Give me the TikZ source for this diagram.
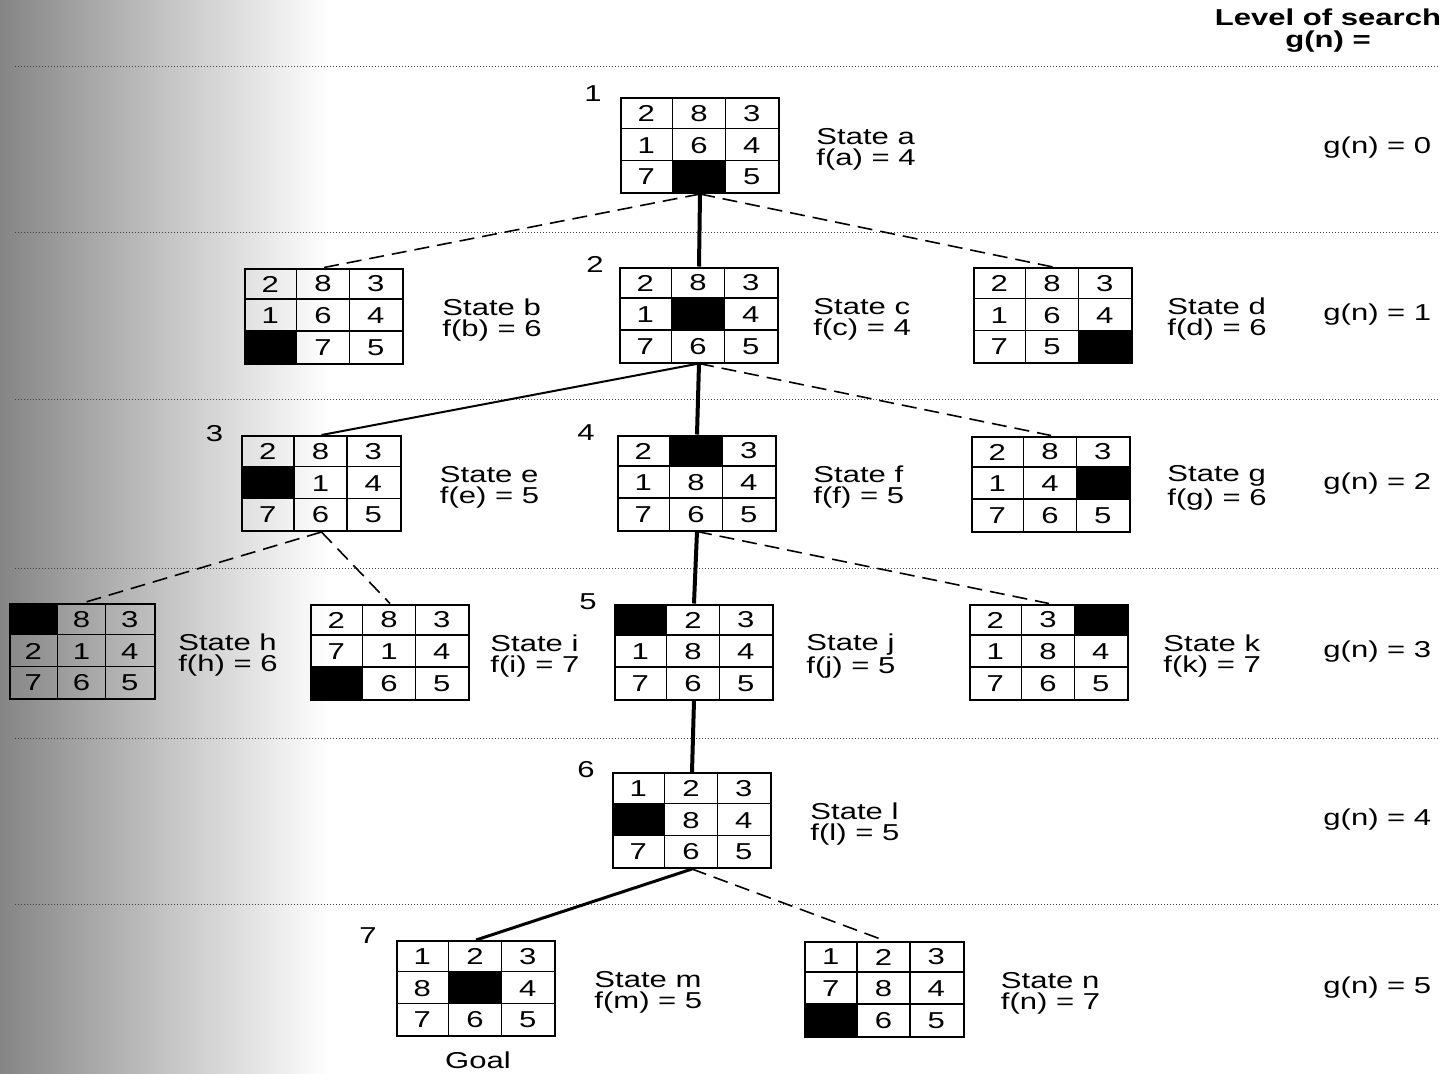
\documentclass[tikz,border=0pt]{standalone}
\usepackage{fontspec}
\setmainfont{Liberation Sans}[FakeStretch=1.35]
\usetikzlibrary{positioning}

\newcommand{\board}[4][52.7]{%
  \node[board, minimum width={1.5*#1 pt}] (#2) at (#3) {};
  \foreach \v [count=\k from 0] in {#4} {
    \pgfmathtruncatemacro\cc{mod(\k,3)}
    \pgfmathtruncatemacro\rr{div(\k,3)}
    \ifnum\v=0\relax
      \fill ([shift={(\cc*#1,\rr*31.67)}]#2.north west) rectangle ++(#1,31.67);
    \else
      \node (#2-\k) at ([shift={(\cc*#1+#1/2,\rr*31.67+16.5)}]#2.north west) {\v};
    \fi
  }
  \foreach \i in {1,2} {
    \draw[cellline] ([shift={(\i*#1,0)}]#2.north west) -- ([shift={(\i*#1,0)}]#2.south west);
    \draw[cellline] ([shift={(0,\i*31.67)}]#2.north west) -- ([shift={(0,\i*31.67)}]#2.north east);
  }
}

\begin{document}
\begin{tikzpicture}[x=0.5pt,y=-0.5pt,
  font=\fontsize{11.5}{10.5}\selectfont,
  board/.style={draw,line width=1pt,minimum height=47.5pt,inner sep=0pt},
  cellline/.style={line width=0.8pt},
  lbl/.style={align=left,inner sep=0pt,yshift=-2pt},
  sep/.style={densely dotted,line width=0.5pt,black!75},
  best/.style={line width=2pt},
  solid1/.style={line width=1pt},
  alt/.style={line width=0.8pt,dash pattern=on 7.5pt off 4pt}]
\useasboundingbox (0,0) rectangle (1447,1073);
\shade[left color=black!48,right color=black!24] (0,0) rectangle (160,1073);
\shade[left color=black!24,right color=white] (160,0) rectangle (330,1073);

\foreach \y in {66,232,399,568,738,904}
  \draw[sep] (15,\y) -- (1440,\y);

\node[font=\fontsize{11.5}{11}\selectfont\bfseries,align=center] (head) at (1328,31) {Level of search\\g(n) =};

\board{a}{700,145.5}{2,8,3,1,6,4,7,0,5}
\board{b}{324,316}{2,8,3,1,6,4,0,7,5}
\board{c}{699,315}{2,8,3,1,0,4,7,6,5}
\board{d}{1053,315.5}{2,8,3,1,6,4,7,5,0}
\board{e}{321.5,483.5}{2,8,3,0,1,4,7,6,5}
\board{f}{697,483}{2,0,3,1,8,4,7,6,5}
\board{g}{1051,484}{2,8,3,1,4,0,7,6,5}
\board[48.3]{h}{82.5,651.5}{0,8,3,2,1,4,7,6,5}
\board{i}{390,652}{2,8,3,7,1,4,0,6,5}
\board{j}{694,652}{0,2,3,1,8,4,7,6,5}
\board{k}{1049,652}{2,3,0,1,8,4,7,6,5}
\board{l}{692,820.5}{1,2,3,0,8,4,7,6,5}
\board{m}{476,988.5}{1,2,3,8,0,4,7,6,5}
\board{n}{884.5,989}{1,2,3,7,8,4,0,6,5}

\node[lbl, right=18pt of a] (la) {State a\\f(a) = 4};
\node[lbl, right=19pt of b] (lb) {State b\\f(b) = 6};
\node[lbl, right=17pt of c] (lc) {State c\\f(c) = 4};
\node[lbl, right=17pt of d] (ld) {State d\\f(d) = 6};
\node[lbl, right=19pt of e] (le) {State e\\f(e) = 5};
\node[lbl, right=18pt of f] (lf) {State f\\f(f) = 5};
\node[lbl, right=18pt of g] (lg) {State g\\f(g) = 6};
\node[lbl, right=11pt of h] (lh) {State h\\f(h) = 6};
\node[lbl, right=10pt of i] (li) {State i\\f(i) = 7};
\node[lbl, right=16pt of j] (lj) {State j\\f(j) = 5};
\node[lbl, right=17pt of k] (lk) {State k\\f(k) = 7};
\node[lbl, right=19pt of l] (ll) {State l\\f(l) = 5};
\node[lbl, right=19pt of m] (lm) {State m\\f(m) = 5};
\node[lbl, right=18pt of n] (ln) {State n\\f(n) = 7};

\node (s1) at ([shift={(-27,-3)}]a.north west) {1};
\node (s2) at ([shift={(-24,-2)}]c.north west) {2};
\node (s3) at ([shift={(-27,-1)}]e.north west) {3};
\node (s4) at ([shift={(-31,-2)}]f.north west) {4};
\node (s5) at ([shift={(-26,-2)}]j.north west) {5};
\node (s6) at ([shift={(-26,-2)}]l.north west) {6};
\node (s7) at ([shift={(-28,-4)}]m.north west) {7};
\node[inner sep=0.5pt] (goal) at ([shift={(2,23)}]m.south) {Goal};

\foreach \lv/\y in {0/144,1/311,2/480,3/648,4/816,5/984}
  \node[lbl,anchor=west] (g\lv) at (1323,\y) {g(n) = \lv};

\draw[alt] (a.south) -- (b.north);
\draw[best] (a.south) -- (c.north);
\draw[alt] (a.south) -- (d.north);
\draw[solid1] (c.south) -- (e.north);
\draw[best] (c.south) -- (f.north);
\draw[alt] (c.south) -- (g.north);
\draw[alt] (e.south) -- (h.north);
\draw[alt] (e.south) -- (i.north);
\draw[best] (f.south) -- (j.north);
\draw[alt] (f.south) -- (k.north);
\draw[best] (j.south) -- (l.north);
\draw[line width=1.5pt] (l.south) -- (m.north);
\draw[alt] (l.south) -- (n.north);
\end{tikzpicture}
\end{document}
